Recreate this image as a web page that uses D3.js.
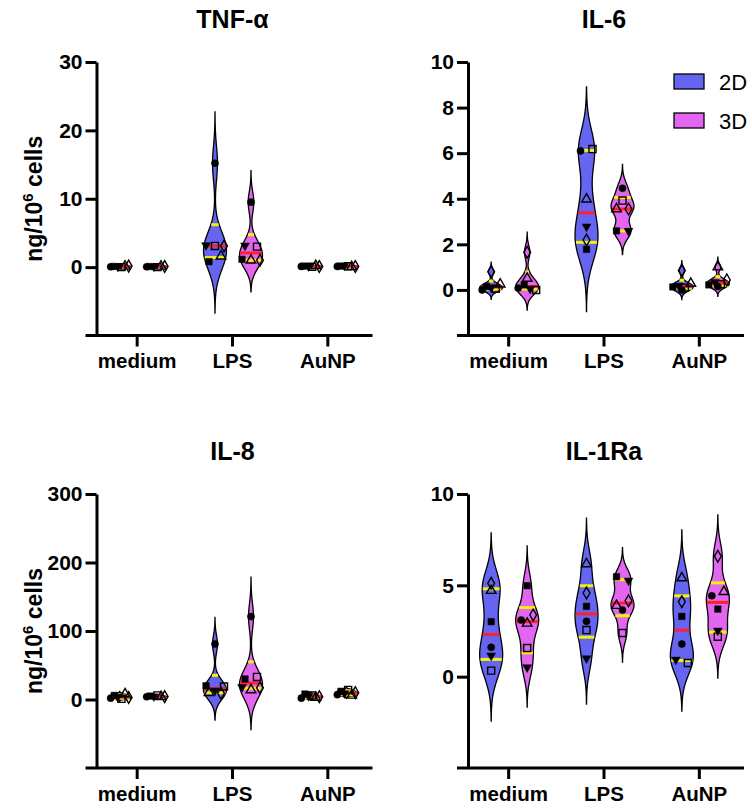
<!DOCTYPE html>
<html>
<head>
<meta charset="utf-8">
<script src="https://cdn.jsdelivr.net/npm/d3@7"></script>
<style>
  body { margin: 0; background: #fff; }
  svg { display: block; font-family: "Liberation Sans", Arial, sans-serif; }
</style>
</head>
<body>
<svg id="chart" width="752" height="809"></svg>
<script>
//=================================
//  Data
//=================================
var categories = ["medium", "LPS", "AuNP"];
var series = ["2D", "3D"];
// every group has 6 donors, one marker shape each:
// filled circle, filled square, filled triangle-down, open square, open triangle, open diamond

var tnf2D = [[0.05, 0.1, 0.08, 0.0, 0.12, 0.15], [15.2, 0.8, 3.2, 3.1, 1.6, 3.1], [0.1, 0.15, 0.12, 0.05, 0.2, 0.08]];
var tnf3D = [[0.05, 0.08, 0.1, 0.0, 0.12, 0.1], [9.5, 1.15, 3.15, 3.0, 1.0, 1.0], [0.1, 0.15, 0.2, 0.12, 0.05, 0.1]];
var tnfTicks = [0, 10, 20, 30];

var il6_2D = [[0.0, 0.15, 0.1, 0.05, 0.25, 0.8], [6.1, 1.78, 2.78, 6.18, 3.98, 2.19], [0.0, 0.13, 0.18, 0.1, 0.28, 0.85]];
var il6_3D = [[0.08, 0.22, 0.05, 0.0, 0.5, 1.65], [4.46, 2.59, 2.59, 3.92, 3.55, 3.55], [0.15, 0.22, 0.35, 0.25, 1.0, 0.44]];
var il6Ticks = [0, 2, 4, 6, 8, 10];

var il8_2D = [[2, 6, 4, 1, 8, 3], [81, 20, 13, 19, 10, 9], [2, 8, 5, 6, 3, 4]];
var il8_3D = [[4, 5, 4.5, 6, 4, 4.2], [121, 30, 18, 33, 14, 17], [7, 12, 9, 14, 6, 10]];
var il8Ticks = [0, 100, 200, 300];

var il1ra2D = [[1.61, 3.01, 1.15, 0.33, 4.71, 5.11], [3.03, 3.85, 1.0, 2.55, 6.17, 4.58], [1.79, 3.3, 0.93, 0.75, 5.4, 4.1]];
var il1ra3D = [[3.1, 4.98, 0.51, 1.57, 2.92, 3.38], [3.65, 5.47, 5.26, 2.39, 3.89, 4.16], [4.43, 3.7, 2.52, 2.19, 4.65, 6.59]];
var il1raTicks = [0, 5, 10];

//=================================
//  Styles
//=================================
var fills = { "2D": "#6565f2", "3D": "#e266f0" };
var medianColor = "#ff1f2d";
var quartColor = "#f2f20a";
var halfW = 11.5; // max half width of a violin

var markers = [
  { type: d3.symbolCircle, filled: true, rot: 0, size: 40 },
  { type: d3.symbolSquare, filled: true, rot: 0, size: 42 },
  { type: d3.symbolTriangle, filled: true, rot: 180, size: 34 },
  { type: d3.symbolSquare, filled: false, rot: 0, size: 50 },
  { type: d3.symbolTriangle, filled: false, rot: 0, size: 40 },
  { type: d3.symbolDiamond, filled: false, rot: 0, size: 40 }
];

var panels = [
  { title: "TNF-\u03b1", ax: 96.5, top: 62, bottom: 335.5, domain: [-10, 30], ticks: tnfTicks, a: tnf2D, b: tnf3D, yTitle: true },
  { title: "IL-6", ax: 468, top: 62, bottom: 335.5, domain: [-2, 10], ticks: il6Ticks, a: il6_2D, b: il6_3D, legend: true },
  { title: "IL-8", ax: 96.5, top: 494, bottom: 768, domain: [-100, 300], ticks: il8Ticks, a: il8_2D, b: il8_3D, yTitle: true },
  { title: "IL-1Ra", ax: 468, top: 494, bottom: 768, domain: [-5, 10], ticks: il1raTicks, a: il1ra2D, b: il1ra3D }
];

var svg = d3.select("#chart");

//Kernel density of one group, bandwidth from the spread of its values
function kde(vals) {
  var sd = d3.deviation(vals) || 0.001;
  var h = 0.47 * sd;
  var lo = d3.min(vals) - 3 * h, hi = d3.max(vals) + 3 * h;
  var dens = function(v) {
    return d3.sum(vals, function(x) { return Math.exp(-0.5 * Math.pow((v - x) / h, 2)); });
  };
  var pts = d3.range(0, 121).map(function(i) {
    var v = lo + (hi - lo) * i / 120;
    return [v, dens(v)];
  });
  var max = d3.max(pts, function(p) { return p[1]; });
  return { pts: pts, w: function(v) { return dens(v) / max * halfW; }, max: max };
}

//Quartile the way Prism does it: position (n+1)p
function quart(vals, p) {
  var s = vals.slice().sort(d3.ascending);
  var pos = (s.length + 1) * p - 1;
  if (pos <= 0) return s[0];
  if (pos >= s.length - 1) return s[s.length - 1];
  var i = Math.floor(pos);
  return s[i] + (pos - i) * (s[i + 1] - s[i]);
}

//Horizontal spread of markers that sit at nearly the same height
function spread(vals, y) {
  var order = d3.range(vals.length).sort(function(a, b) { return vals[b] - vals[a]; });
  var rows = [];
  order.forEach(function(i) {
    var row = rows[rows.length - 1];
    if (row && Math.abs(y(vals[i]) - y(vals[row[0]])) < 6) row.push(i);
    else rows.push([i]);
  });
  var off = [];
  rows.forEach(function(row) {
    var k = row.length;
    var step = k > 1 ? Math.min(12, 18 / (k - 1)) : 0;
    row.sort(d3.ascending).forEach(function(i, j) { off[i] = (j - (k - 1) / 2) * step; });
  });
  return off;
}

panels.forEach(function(p) {
  var g = svg.append("g");

  var y = d3.scaleLinear().domain(p.domain).range([p.bottom, p.top]);
  var x = d3.scaleBand().domain(categories).range([p.ax - 7, p.ax + 279]);
  var sx = d3.scalePoint().domain(series).range([-17.5, 18.5]);

  //Violins
  var groups = [];
  categories.forEach(function(c, ci) {
    series.forEach(function(s) {
      var vals = (s == "2D" ? p.a : p.b)[ci];
      groups.push({ cx: x(c) + x.bandwidth() / 2 + sx(s), vals: vals, s: s, k: kde(vals) });
    });
  });

  groups.forEach(function(d) {
    var area = d3.area()
      .y(function(q) { return y(q[0]); })
      .x0(function(q) { return d.cx - q[1] / d.k.max * halfW; })
      .x1(function(q) { return d.cx + q[1] / d.k.max * halfW; })
      .curve(d3.curveBasis);
    g.append("path")
      .attr("d", area(d.k.pts))
      .attr("fill", fills[d.s])
      .attr("stroke", "#000")
      .attr("stroke-width", 1.3);
  });

  //Median and quartile lines, as wide as the violin at that level
  groups.forEach(function(d) {
    [[0.25, quartColor], [0.75, quartColor], [0.5, medianColor]].forEach(function(q) {
      var v = quart(d.vals, q[0]);
      var w = Math.max(d.k.w(v) - 0.6, 0);
      g.append("line")
        .attr("x1", d.cx - w).attr("x2", d.cx + w)
        .attr("y1", y(v)).attr("y2", y(v))
        .attr("stroke", q[1])
        .attr("stroke-width", 3);
    });
  });

  //Donor markers
  groups.forEach(function(d) {
    var off = spread(d.vals, y);
    d.vals.forEach(function(v, i) {
      var m = markers[i];
      g.append("path")
        .attr("d", d3.symbol().type(m.type).size(m.size)())
        .attr("transform", "translate(" + (d.cx + off[i]) + "," + y(v) + ") rotate(" + m.rot + ")")
        .attr("fill", m.filled ? "#000" : "none")
        .attr("stroke", "#000")
        .attr("stroke-width", m.filled ? 0.5 : 1.4);
    });
  });

  //Axes
  var yAxis = g.append("g")
    .attr("transform", "translate(" + p.ax + ",0)")
    .call(d3.axisLeft(y).tickValues(p.ticks).tickSize(11).tickSizeOuter(0).tickPadding(3));
  yAxis.selectAll("text").attr("font-size", 21).attr("font-weight", "bold").attr("fill", "#000");

  var xAxis = g.append("g")
    .attr("transform", "translate(0," + p.bottom + ")")
    .call(d3.axisBottom(x).tickSize(11).tickSizeOuter(0).tickPadding(7));
  xAxis.select(".domain").remove();
  xAxis.selectAll("text").attr("font-size", 20.5).attr("font-weight", "bold").attr("fill", "#000");
  g.append("line")
    .attr("x1", p.ax - 11).attr("x2", p.ax + 276)
    .attr("y1", p.bottom).attr("y2", p.bottom)
    .attr("stroke", "#000").attr("stroke-width", 3);

  g.selectAll(".domain, .tick line").attr("stroke", "#000").attr("stroke-width", 3);

  //Title
  g.append("text")
    .attr("x", x("LPS") + x.bandwidth() / 2)
    .attr("y", p.top - 34)
    .attr("text-anchor", "middle")
    .attr("font-size", 25)
    .attr("font-weight", "bold")
    .text(p.title);

  //Y axis title
  if (p.yTitle) {
    var t = g.append("text")
      .attr("transform", "translate(" + (p.ax - 55) + "," + ((p.top + p.bottom) / 2) + ") rotate(-90)")
      .attr("text-anchor", "middle")
      .attr("font-size", 23)
      .attr("font-weight", "bold");
    t.append("tspan").text("ng/10");
    t.append("tspan").attr("dy", -9).attr("font-size", 15).text("6");
    t.append("tspan").attr("dy", 9).text(" cells");
  }

  //Legend
  if (p.legend) {
    series.forEach(function(s, i) {
      g.append("rect")
        .attr("x", 674).attr("y", 74 + i * 39)
        .attr("width", 30).attr("height", 15)
        .attr("fill", fills[s])
        .attr("stroke", "#000")
        .attr("stroke-width", 1.3);
      g.append("text")
        .attr("x", 719).attr("y", 90 + i * 39)
        .attr("font-size", 22)
        .text(s);
    });
  }
});
</script>
</body>
</html>
